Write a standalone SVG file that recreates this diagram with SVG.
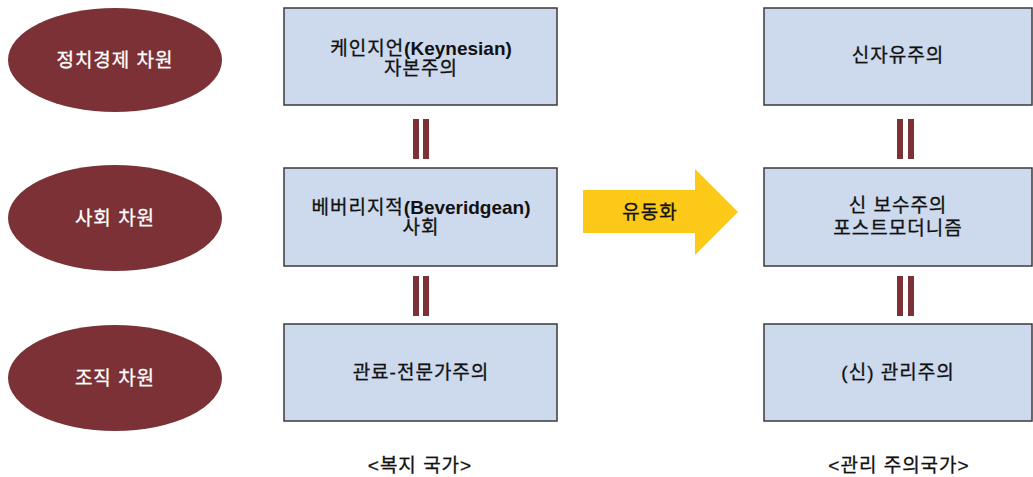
<svg xmlns="http://www.w3.org/2000/svg" width="1033" height="477" viewBox="0 0 1033 477">
<style>
.el{fill:#7B3135;}
.bx{fill:#CDD9ED;stroke:#3a3a3a;stroke-width:1.5;}
.bar{fill:#7B3135;}
.t{font-family:"Liberation Sans","Noto Sans CJK KR",sans-serif;font-size:19px;letter-spacing:1px;fill:#111;stroke:#111;stroke-width:0.3;text-anchor:middle;}
.w{fill:#fff;stroke:#fff;}
.b{font-weight:bold;letter-spacing:0;stroke-width:0;}
</style>
<rect width="1033" height="477" fill="#fff"/>
<g id="dim1"><ellipse class="el" cx="115" cy="60" rx="107" ry="52"/><text class="t w" x="115" y="67">정치경제 차원</text></g>
<g id="dim2"><ellipse class="el" cx="115" cy="218" rx="107" ry="53"/><text class="t w" x="115" y="225">사회 차원</text></g>
<g id="dim3"><ellipse class="el" cx="115" cy="378" rx="107" ry="53"/><text class="t w" x="115" y="385">조직 차원</text></g>
<g id="w1"><rect class="bx" x="284" y="8" width="273" height="97"/><text class="t" x="421" y="55">케인지언<tspan class="b">(Keynesian)</tspan></text><text class="t" x="421" y="75">자본주의</text></g>
<g id="w2"><rect class="bx" x="284" y="168" width="273" height="98"/><text class="t" x="421" y="214">베버리지적<tspan class="b">(Beveridgean)</tspan></text><text class="t" x="421" y="234">사회</text></g>
<g id="w3"><rect class="bx" x="284" y="324" width="273" height="97"/><text class="t" x="421" y="379">관료-전문가주의</text></g>
<g id="m1"><rect class="bx" x="764" y="8" width="268" height="97"/><text class="t" x="898" y="62">신자유주의</text></g>
<g id="m2"><rect class="bx" x="764" y="168" width="268" height="98"/><text class="t" x="898" y="212">신 보수주의</text><text class="t" x="898" y="235">포스트모더니즘</text></g>
<g id="m3"><rect class="bx" x="764" y="324" width="268" height="97"/><text class="t" x="898" y="379">(신) 관리주의</text></g>
<g id="flow"><polygon points="583,190 695,190 695,169 738,212 695,255 695,233 583,233" fill="#FCC919"/><text class="t" x="650" y="219">유동화</text></g>
<g id="connectors">
<rect class="bar" x="413" y="119" width="6" height="40"/><rect class="bar" x="423" y="119" width="6" height="40"/>
<rect class="bar" x="413" y="276" width="6" height="40"/><rect class="bar" x="423" y="276" width="6" height="40"/>
<rect class="bar" x="897" y="119" width="6" height="40"/><rect class="bar" x="908" y="119" width="6" height="40"/>
<rect class="bar" x="897" y="276" width="6" height="40"/><rect class="bar" x="908" y="276" width="6" height="40"/>
</g>
<g id="labels"><text class="t" x="420" y="472">&lt;복지 국가&gt;</text><text class="t" x="899" y="472">&lt;관리 주의국가&gt;</text></g>
</svg>
